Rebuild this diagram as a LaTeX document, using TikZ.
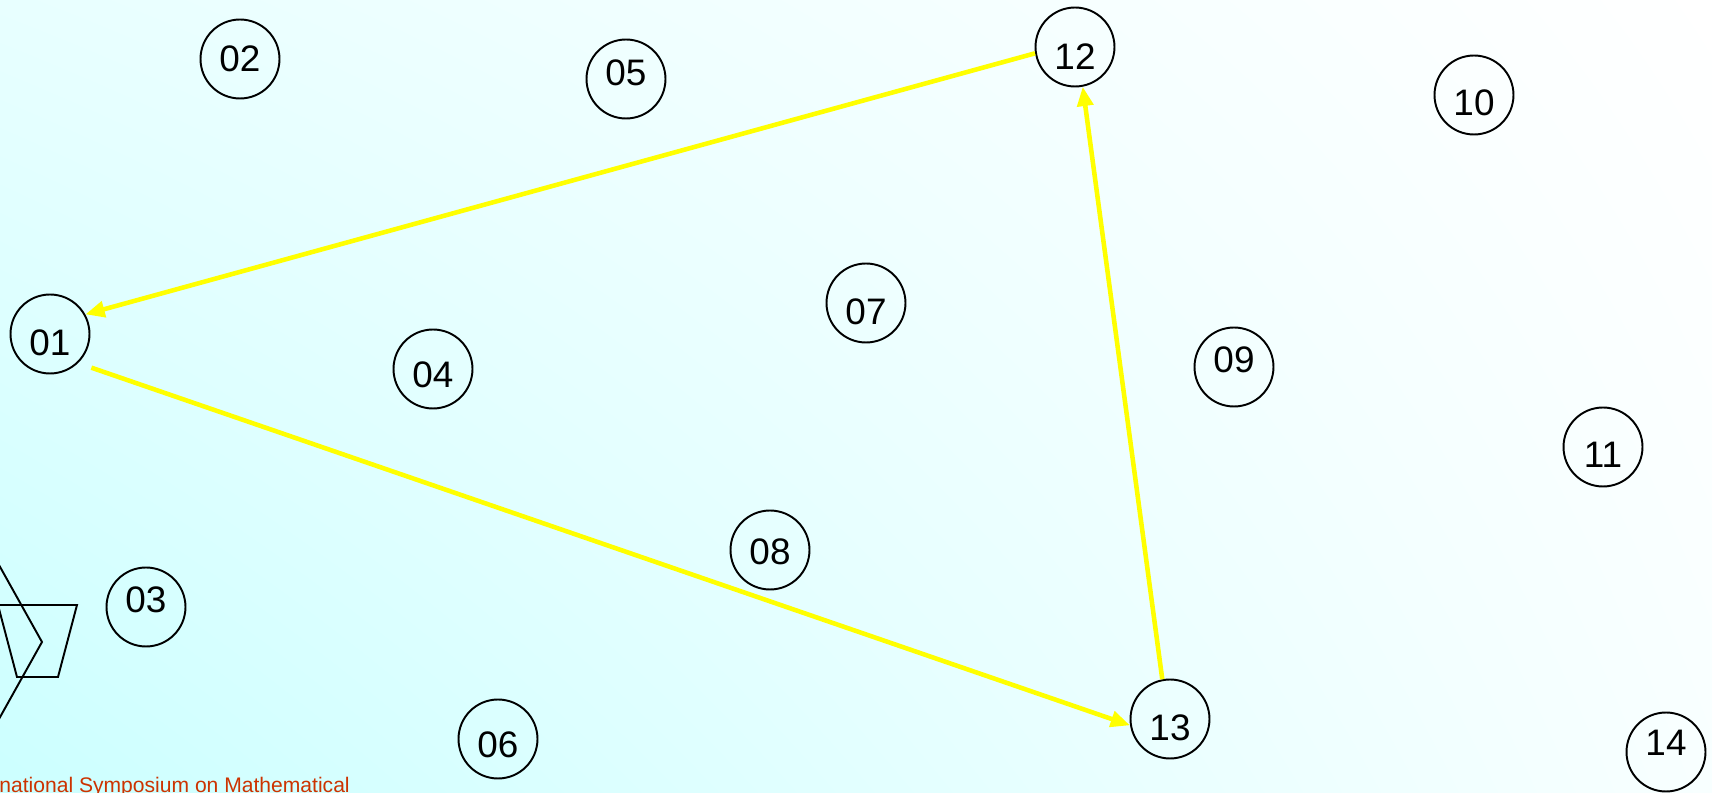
\documentclass[tikz,border=0pt]{standalone}
\usepackage{fontspec}
\setmainfont{Liberation Sans}
\usetikzlibrary{arrows.meta, shadings}
\definecolor{fondcyan}{RGB}{204,255,255}
\definecolor{fondmid}{RGB}{232,255,255}
\definecolor{fondpale}{RGB}{248,255,255}
\definecolor{jaune}{RGB}{255,255,0}
\definecolor{rouille}{RGB}{204,51,0}

\begin{document}
\begin{tikzpicture}[x=0.02cm, y=-0.02cm,
  sommet/.style={circle, draw=black, line width=1.1pt, minimum size=1.58cm, inner sep=0pt},
  num/.style={font=\fontsize{21}{25}\selectfont, inner sep=0pt},
  fleche/.style={-{Triangle[length=11pt, width=9pt]}, line width=2.6pt, jaune}]
  % Fond en dégradé
  \useasboundingbox (0,0) rectangle (1712,793);
  \clip (0,0) rectangle (1712,793);
  \shade[lower left=fondcyan, upper left=fondmid, lower right=fondpale, upper right=white] (0,0) rectangle (1712,793);
  % Sommets numérotés
  \node[sommet, label={[num, yshift=-5pt]center:01}] (n01) at (50,334) {};
  \node[sommet, label={[num]center:02}] (n02) at (240,59) {};
  \node[sommet, label={[num, yshift=4pt]center:03}] (n03) at (146,607) {};
  \node[sommet, label={[num, yshift=-3.5pt]center:04}] (n04) at (433,369) {};
  \node[sommet, label={[num, yshift=3.5pt]center:05}] (n05) at (626,79) {};
  \node[sommet, label={[num, yshift=-3.5pt]center:06}] (n06) at (498,739) {};
  \node[sommet, label={[num, yshift=-5pt]center:07}] (n07) at (866,303) {};
  \node[sommet, label={[num, yshift=-1pt]center:08}] (n08) at (770,550) {};
  \node[sommet, label={[num, yshift=4pt]center:09}] (n09) at (1234,367) {};
  \node[sommet, label={[num, yshift=-4.5pt]center:10}] (n10) at (1474,95) {};
  \node[sommet, label={[num, yshift=-4.5pt]center:11}] (n11) at (1603,447) {};
  \node[sommet, label={[num, yshift=-5.5pt]center:12}] (n12) at (1075,47) {};
  \node[sommet, label={[num, yshift=-5pt]center:13}] (n13) at (1170,719) {};
  \node[sommet, label={[num, yshift=5pt]center:14}] (n14) at (1666,752) {};
  % Cycle jaune 12 -> 01 -> 13 -> 12
  \draw[fleche] (n12.189) -- (n01.29);
  \draw[fleche, shorten <=8pt] (n01.-46) -- (n13.189);
  \draw[fleche] (n13.101) -- (n12.281);
  % Formes coupées au bord gauche
  \draw[line width=1.1pt] (-2,605) -- (77,605) -- (58,677) -- (17,677) -- cycle;
  \draw[line width=1.1pt] (-20,531) -- (42,642) -- (-20,753);
  % Pied de page
  \node[anchor=base west, text=rouille, font=\fontsize{12}{14}\selectfont, inner sep=0pt] (pied) at (-1,793) {national Symposium on Mathematical};
\end{tikzpicture}
\end{document}
